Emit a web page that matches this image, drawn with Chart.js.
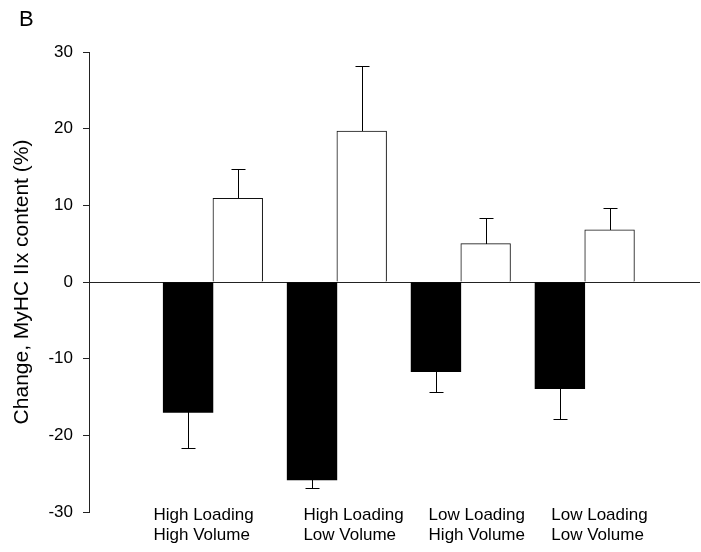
<!DOCTYPE html>
<html>
<head>
<meta charset="utf-8">
<script src="https://cdn.jsdelivr.net/npm/chart.js@4"></script>
<style>
  html, body { margin: 0; padding: 0; background: #fff; }
  #wrap { position: relative; width: 701px; height: 552px; }
  #panel {
    position: absolute; left: 19px; top: 6px;
    font: 22px "Liberation Sans", Arial, sans-serif; color: #000;
  }
</style>
</head>
<body>
<div id="wrap">
  <canvas id="chart" width="701" height="552"></canvas>
  <div id="panel">B</div>
</div>
<script>
// groups along the x axis (two-line labels)
const categories = [
  ["High Loading", "High Volume"],
  ["High Loading", "Low Volume"],
  ["Low Loading", "High Volume"],
  ["Low Loading", "Low Volume"],
];

// filled bars (drop) and open bars (rise), with their error lengths
const blackValues = [-17.0, -25.8, -11.7, -13.9];
const blackErrors = [4.7, 1.1, 2.6, 4.0];
const whiteValues = [10.9, 19.7, 5.0, 6.8];
const whiteErrors = [3.8, 8.5, 3.4, 2.9];

const yTicks = [-30, -20, -10, 0, 10, 20, 30];

const FONT = '"Liberation Sans", Arial, sans-serif';

// label left edges sit a little left of each group centre
const labelShift = [-0.48, -0.27, -0.26, -0.27];

const errorBars = {
  id: "errorBars",
  afterDatasetsDraw(chart) {
    const ctx = chart.ctx;
    const y = chart.scales.y;
    ctx.save();
    ctx.strokeStyle = "#000";
    ctx.lineWidth = 1;
    chart.data.datasets.forEach((ds, d) => {
      chart.getDatasetMeta(d).data.forEach((bar, i) => {
        const v = ds.data[i].y;
        const e = ds.errors[i];
        const end = v < 0 ? v - e : v + e;
        const x = Math.round(bar.x) + 0.5;
        const y0 = Math.round(bar.y);
        const y1 = Math.round(y.getPixelForValue(end)) + 0.5;
        ctx.beginPath();
        ctx.moveTo(x, y0);
        ctx.lineTo(x, y1);
        ctx.moveTo(x - 7, y1);
        ctx.lineTo(x + 7, y1);
        ctx.stroke();
      });
    });
    ctx.restore();
  },
};

new Chart(document.getElementById("chart"), {
  type: "bar",
  data: {
    datasets: [
      {
        data: blackValues.map((v, i) => ({ x: i, y: v })),
        errors: blackErrors,
        backgroundColor: "#000",
        borderColor: "#000",
        borderWidth: 0,
      },
      {
        data: whiteValues.map((v, i) => ({ x: i, y: v })),
        errors: whiteErrors,
        backgroundColor: "#fff",
        borderColor: "#111",
        borderWidth: 1,
      },
    ],
  },
  options: {
    responsive: false,
    animation: false,
    barThickness: 49.7,
    layout: { padding: { top: 52, right: 1, left: 0, bottom: 0 } },
    plugins: {
      legend: { display: false },
      tooltip: { enabled: false },
    },
    scales: {
      x: {
        type: "linear",
        offset: false,
        min: -1,
        max: 3.93,
        grid: { display: false, offset: false },
        border: { display: false },
        afterBuildTicks: (scale) => {
          scale.ticks = categories.map((c, i) => ({ value: i + labelShift[i] }));
        },
        afterFit: (scale) => {
          scale.height = 40;
        },
        ticks: {
          align: "start",
          mirror: true,
          maxRotation: 0,
          autoSkip: false,
          padding: -13,
          color: "#000",
          font: { family: FONT, size: 17, lineHeight: 1.18 },
          callback: (value, index) => categories[index],
        },
      },
      y: {
        min: yTicks[0],
        max: yTicks[yTicks.length - 1],
        afterBuildTicks: (scale) => {
          scale.ticks = yTicks.map((v) => ({ value: v }));
        },
        afterFit: (scale) => {
          scale.width = 89;
        },
        border: { display: true, color: "#222", width: 1 },
        grid: {
          color: (ctx) => (ctx.tick && ctx.tick.value === 0 ? "#222" : "rgba(0,0,0,0)"),
          tickColor: "#222",
          tickLength: 6,
          lineWidth: 1,
        },
        ticks: {
          padding: 10,
          color: "#000",
          font: { family: FONT, size: 17 },
        },
        title: {
          display: true,
          text: "Change, MyHC IIx content (%)",
          color: "#000",
          font: { family: FONT, size: 21 },
          padding: { top: 10, bottom: 0 },
        },
      },
    },
  },
  plugins: [errorBars],
});
</script>
</body>
</html>
